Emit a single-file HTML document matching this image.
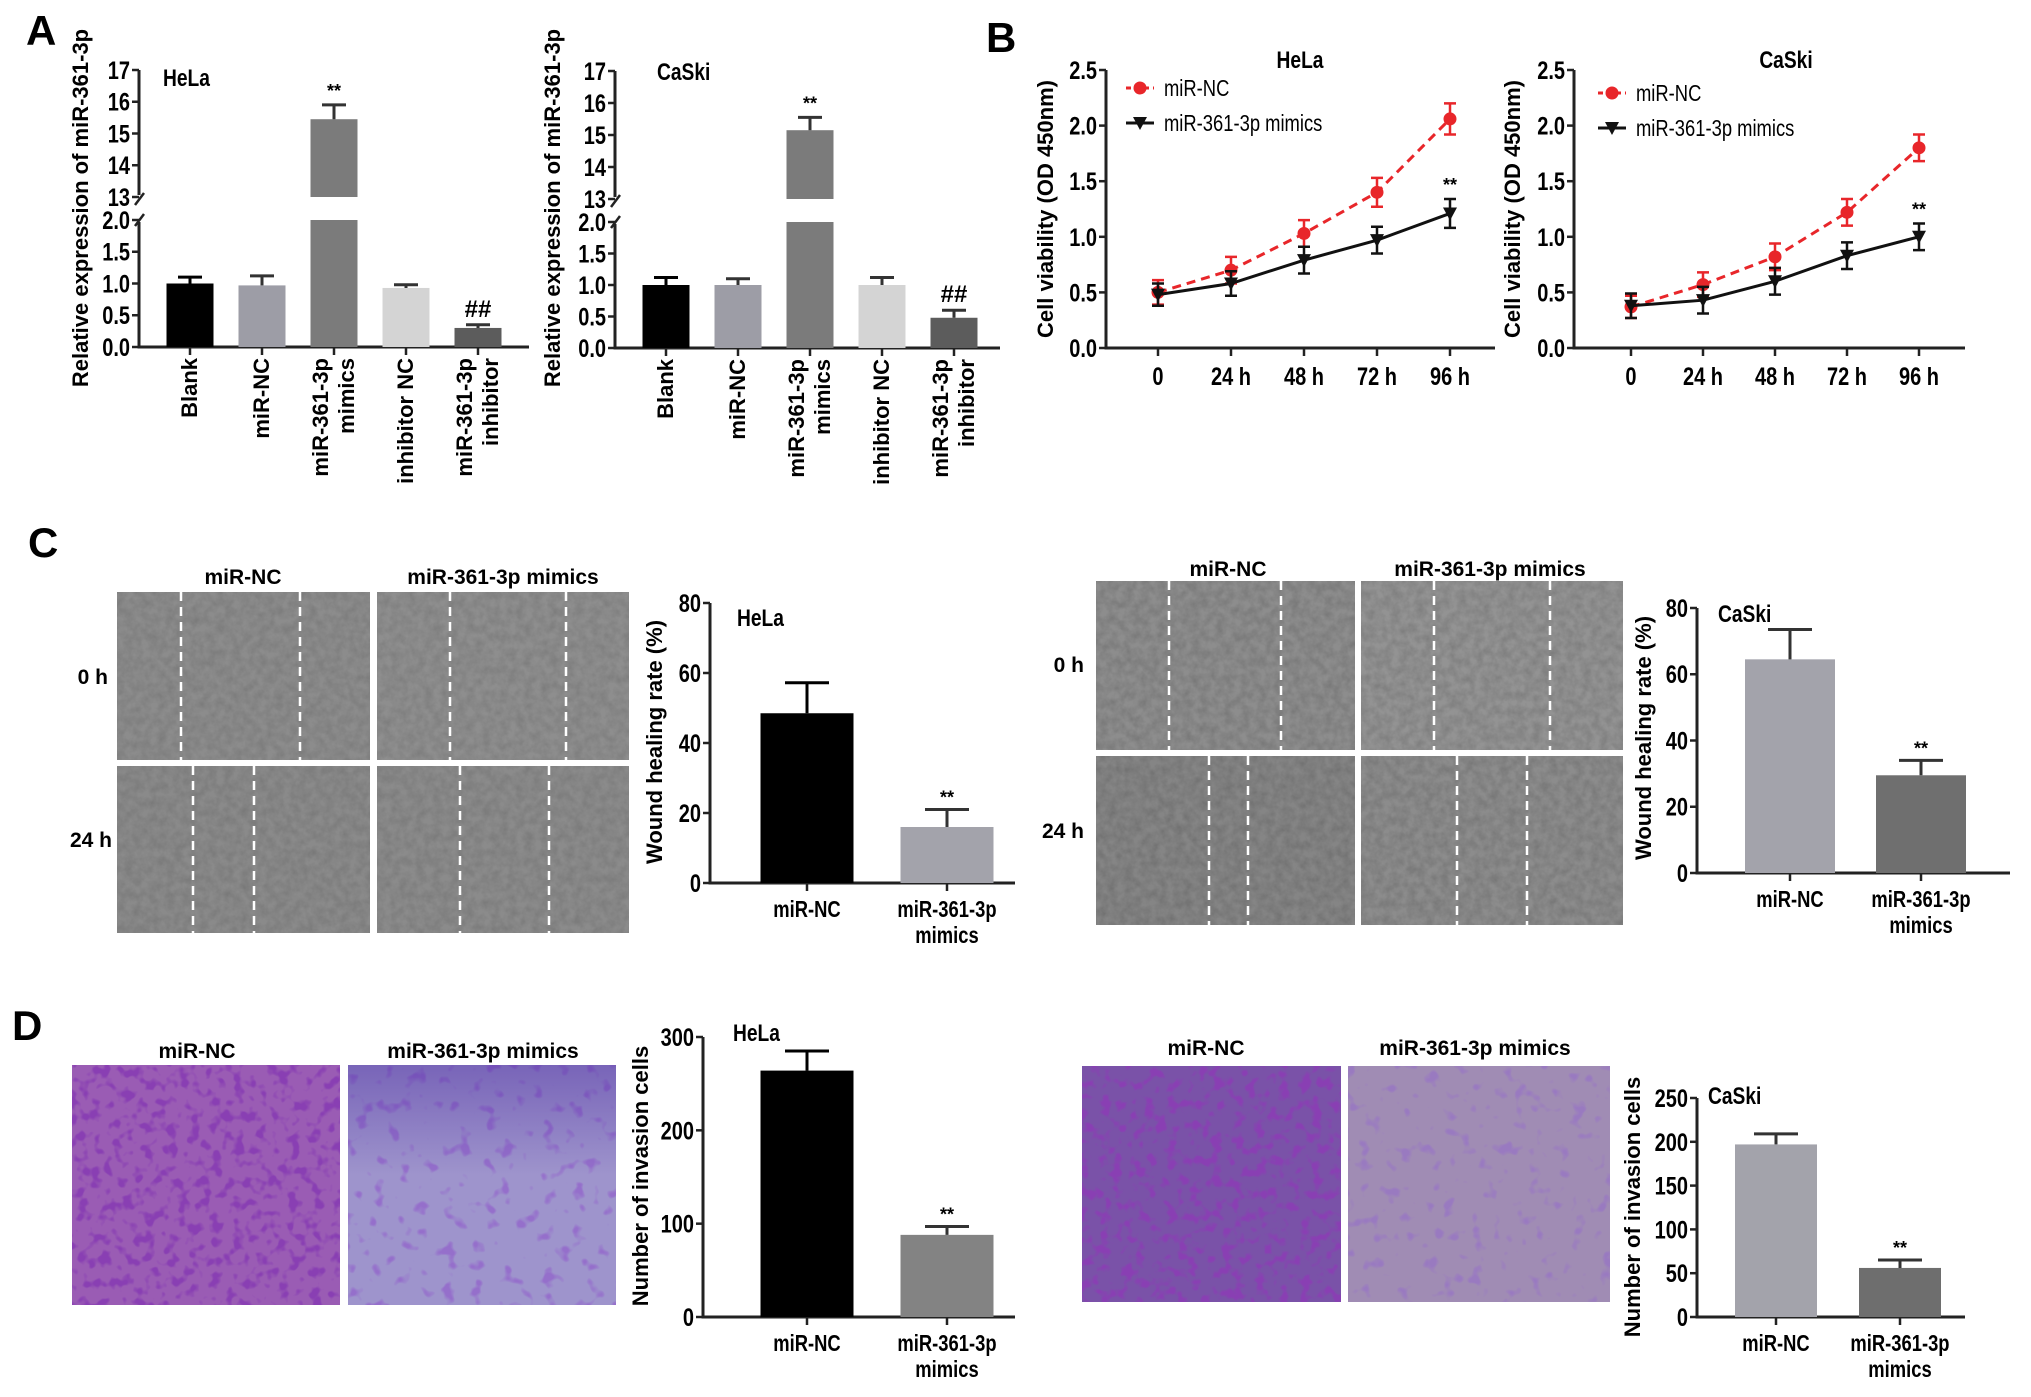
<!DOCTYPE html>
<html><head><meta charset="utf-8"><style>
html,body{margin:0;padding:0;background:#fff;}
svg{display:block;font-family:"Liberation Sans",Arial,sans-serif;font-weight:bold;}
</style></head><body>
<svg id="fig" width="2031" height="1397" viewBox="0 0 2031 1397" xmlns="http://www.w3.org/2000/svg">
<defs>
<filter id="noise" x="0" y="0" width="100%" height="100%"><feTurbulence type="fractalNoise" baseFrequency="0.12" numOctaves="3" seed="3"/><feColorMatrix type="matrix" values="0 0 0 0 0  0 0 0 0 0  0 0 0 0 0  0 0 0 0.9 -0.25"/></filter>
<filter id="cells" x="0" y="0" width="100%" height="100%"><feTurbulence type="fractalNoise" baseFrequency="0.09" numOctaves="2" seed="7"/><feColorMatrix type="matrix" values="0 0 0 0 0.25  0 0 0 0 0.05  0 0 0 0 0.45  0 0 0 6 -3.1"/></filter>
<filter id="cells2" x="0" y="0" width="100%" height="100%"><feTurbulence type="fractalNoise" baseFrequency="0.07" numOctaves="2" seed="11"/><feColorMatrix type="matrix" values="0 0 0 0 0.3  0 0 0 0 0.15  0 0 0 0 0.6  0 0 0 7 -4.2"/></filter>
<linearGradient id="topdense" x1="0" y1="0" x2="0" y2="1"><stop offset="0" stop-color="#4a2aa0" stop-opacity="0.45"/><stop offset="1" stop-color="#4a2aa0" stop-opacity="0"/></linearGradient>
</defs>
<rect width="2031" height="1397" fill="#fff"/>
<g font-size="42">
<text x="26" y="45">A</text>
<text x="986" y="52">B</text>
<text x="28" y="557">C</text>
<text x="12" y="1040">D</text>
</g>

<g>
<rect x="117" y="592" width="253" height="168" fill="#8c8c8c"/>
<rect x="377" y="592" width="252" height="168" fill="#8e8e8e"/>
<rect x="117" y="766" width="253" height="167" fill="#8a8a8a"/>
<rect x="377" y="766" width="252" height="167" fill="#8b8b8b"/>
<rect x="117" y="592" width="512" height="341" filter="url(#noise)" opacity="0.2"/>
<rect x="370" y="592" width="7" height="341" fill="#fff"/>
<rect x="117" y="760" width="512" height="6" fill="#fff"/>
<g stroke="#fff" stroke-width="2.5" stroke-dasharray="9,6">
<line x1="181" y1="592" x2="181" y2="760"/><line x1="300" y1="592" x2="300" y2="760"/>
<line x1="450" y1="592" x2="450" y2="760"/><line x1="566" y1="592" x2="566" y2="760"/>
<line x1="193" y1="766" x2="193" y2="933"/><line x1="254" y1="766" x2="254" y2="933"/>
<line x1="460" y1="766" x2="460" y2="933"/><line x1="549" y1="766" x2="549" y2="933"/>
</g>
<text x="243" y="584" font-size="21" text-anchor="middle">miR-NC</text>
<text x="503" y="584" font-size="21" text-anchor="middle">miR-361-3p mimics</text>
<text x="108" y="684" font-size="21" text-anchor="end">0 h</text>
<text x="112" y="847" font-size="21" text-anchor="end">24 h</text>
</g>
<g>
<rect x="1096" y="581" width="259" height="169" fill="#8d8d8d"/>
<rect x="1361" y="581" width="262" height="169" fill="#939393"/>
<rect x="1096" y="756" width="259" height="169" fill="#858585"/>
<rect x="1361" y="756" width="262" height="169" fill="#8c8c8c"/>
<rect x="1096" y="581" width="527" height="344" filter="url(#noise)" opacity="0.25"/>
<rect x="1355" y="581" width="6" height="344" fill="#fff"/>
<rect x="1096" y="750" width="527" height="6" fill="#fff"/>
<g stroke="#fff" stroke-width="2.5" stroke-dasharray="9,6">
<line x1="1169" y1="581" x2="1169" y2="750"/><line x1="1281" y1="581" x2="1281" y2="750"/>
<line x1="1434" y1="581" x2="1434" y2="750"/><line x1="1550" y1="581" x2="1550" y2="750"/>
<line x1="1209" y1="756" x2="1209" y2="925"/><line x1="1248" y1="756" x2="1248" y2="925"/>
<line x1="1457" y1="756" x2="1457" y2="925"/><line x1="1527" y1="756" x2="1527" y2="925"/>
</g>
<text x="1228" y="576" font-size="21" text-anchor="middle">miR-NC</text>
<text x="1490" y="576" font-size="21" text-anchor="middle">miR-361-3p mimics</text>
<text x="1084" y="672" font-size="21" text-anchor="end">0 h</text>
<text x="1084" y="838" font-size="21" text-anchor="end">24 h</text>
</g>

<g>
<rect x="72" y="1065" width="268" height="240" fill="#9a5cb4"/>
<rect x="72" y="1065" width="268" height="240" filter="url(#cells)"/>
<rect x="348" y="1065" width="268" height="240" fill="#9e94cc"/>
<rect x="348" y="1065" width="268" height="240" filter="url(#cells2)" opacity="0.9"/>
<rect x="348" y="1065" width="268" height="110" fill="url(#topdense)"/>
<text x="197" y="1058" font-size="21" text-anchor="middle">miR-NC</text>
<text x="483" y="1058" font-size="21" text-anchor="middle">miR-361-3p mimics</text>
</g>
<g>
<rect x="1082" y="1066" width="259" height="236" fill="#7a52a8"/>
<rect x="1082" y="1066" width="259" height="236" filter="url(#cells)"/>
<rect x="1348" y="1066" width="262" height="236" fill="#a08cb4"/>
<rect x="1348" y="1066" width="262" height="236" filter="url(#cells2)" opacity="0.55"/>
<text x="1206" y="1055" font-size="21" text-anchor="middle">miR-NC</text>
<text x="1475" y="1055" font-size="21" text-anchor="middle">miR-361-3p mimics</text>
</g>
<g id="charts"></g>
</svg>
<script>
// ---- Panel A data ----
const aCategories = ['Blank','miR-NC','miR-361-3p|mimics','inhibitor NC','miR-361-3p|inhibitor'];
const aHelaValues = [1.0, 0.97, 15.45, 0.93, 0.30];
const aHelaErrors = [0.10, 0.15, 0.45, 0.05, 0.05];
const aCaskiValues = [1.0, 1.0, 15.15, 1.0, 0.48];
const aCaskiErrors = [0.12, 0.10, 0.40, 0.12, 0.12];
const aLowerTicks = ['0.0','0.5','1.0','1.5','2.0'];
const aUpperTicks = ['13','14','15','16','17'];
const aHelaMarks = ['', '', '**', '', '##'];
const aCaskiMarks = ['', '', '**', '', '##'];
// ---- Panel B data ----
const bTimes = ['0','24 h','48 h','72 h','96 h'];
const bYTicks = ['0.0','0.5','1.0','1.5','2.0','2.5'];
const bHelaNC = [0.50, 0.70, 1.03, 1.40, 2.06];
const bHelaNCErr = [0.11, 0.12, 0.12, 0.13, 0.14];
const bHelaMimics = [0.48, 0.58, 0.79, 0.97, 1.21];
const bHelaMimicsErr = [0.10, 0.11, 0.12, 0.12, 0.13];
const bCaskiNC = [0.37, 0.57, 0.82, 1.22, 1.80];
const bCaskiNCErr = [0.10, 0.11, 0.12, 0.12, 0.12];
const bCaskiMimics = [0.38, 0.43, 0.60, 0.83, 1.00];
const bCaskiMimicsErr = [0.11, 0.12, 0.12, 0.12, 0.12];
// ---- Panel C data ----
const cCategories = ['miR-NC','miR-361-3p|mimics'];
const cYTicks = ['0','20','40','60','80'];
const cHelaValues = [48.5, 16.0];
const cHelaErrors = [8.7, 5.0];
const cCaskiValues = [64.5, 29.5];
const cCaskiErrors = [9.0, 4.5];
// ---- Panel D data ----
const dCategories = ['miR-NC','miR-361-3p|mimics'];
const dHelaTicks = ['0','100','200','300'];
const dHelaValues = [264, 88];
const dHelaErrors = [21, 9];
const dCaskiTicks = ['0','50','100','150','200','250'];
const dCaskiValues = [197, 56];
const dCaskiErrors = [12, 9];

const TICK_FS = 25;
const NS = 'http://www.w3.org/2000/svg';
const root = document.getElementById('charts');
function mk(tag, attrs, parent){
  const e = document.createElementNS(NS, tag);
  for (const k in attrs) e.setAttribute(k, attrs[k]);
  (parent || root).appendChild(e);
  return e;
}
function txt(parent, x, y, s, size, anchor, extra){
  const t = mk('text', Object.assign({x:x, y:y, 'font-size':size, 'text-anchor':anchor||'middle'}, extra||{}), parent);
  t.textContent = s;
  return t;
}
function sq(x){ return `translate(${x},0) scale(0.8,1) translate(${-x},0)`; }

function brokenBar(p){
  const g = mk('g', {});
  
  
  const lowScale = (p.y0 - p.y2) / 2;
  const upScale = (p.y13 - p.y17) / 4;
  const yv = v => v <= 2 ? p.y0 - v * lowScale : p.y13 - (v - 13) * upScale;
  const ax = mk('path', {d:`M${p.ax},${p.y17} V${p.y13-2} M${p.ax},${p.y2+2} V${p.y0} H${p.axEnd}`, stroke:'#222', 'stroke-width':3, fill:'none'}, g);
  
  
  const brk = mk('path', {d:`M${p.ax-4},${p.y13+8} L${p.ax+5},${p.y13-4} M${p.ax-4},${p.y2+6} L${p.ax+5},${p.y2-6}`, stroke:'#222', 'stroke-width':2.5, fill:'none'}, g);
  
  
  aLowerTicks.concat(aUpperTicks).forEach(s=>{
    const y = yv(parseFloat(s));
    const tk = mk('line', {x1:p.ax-7, x2:p.ax, y1:y, y2:y, stroke:'#222', 'stroke-width':2.5}, g);
    
    
    const tl = txt(g, p.ax-9, y+9, s, TICK_FS, 'end', {transform:sq(p.ax-9)});
    
    
  });
  aCategories.forEach((c,i)=>{
    const cx = p.x0 + i * p.step, v = p.values[i], e = p.errors[i];
    if (v > 13) {
      const r1 = mk('rect', {x:cx-p.w/2, y:yv(2), width:p.w, height:p.y0-yv(2), fill:p.colors[i]}, g);
      
      
      const r2 = mk('rect', {x:cx-p.w/2, y:yv(v), width:p.w, height:yv(13)-yv(v), fill:p.colors[i]}, g);
      
      
    } else {
      const r = mk('rect', {x:cx-p.w/2, y:yv(v), width:p.w, height:p.y0-yv(v), fill:p.colors[i]}, g);
      
      
    }
    const ey = yv(v + e);
    const eb = mk('path', {d:`M${cx},${yv(v)} V${ey} M${cx-12},${ey} H${cx+12}`, stroke:p.colors[i]==='#000'?'#000':'#333', 'stroke-width':3, fill:'none'}, g);
    
    
    const tk = mk('line', {x1:cx, x2:cx, y1:p.y0, y2:p.y0+8, stroke:'#222', 'stroke-width':2.5}, g);
    
    
    if (p.marks[i]) {
      const m = txt(g, cx, ey-8, p.marks[i], p.marks[i]==='**'?18:24, 'middle');
      
      
    }
    const lines = c.split('|');
    lines.forEach((ln,j)=>{
      const lx = cx + 7 + (j - (lines.length-1)/2) * 26;
      const t = txt(g, 0, 0, ln, 22, 'end', {transform:`translate(${lx},${p.y0+11}) rotate(-90)`});
      
      
    });
  });
  const yl = txt(g, 0, 0, 'Relative expression of miR-361-3p', 22, 'middle', {transform:`translate(${p.ylx},${p.yly}) rotate(-90)`});
  
  
  const ti = txt(g, p.tx, p.ty, p.title, 24, 'start', {transform:sq(p.tx)});
  
  
}
brokenBar({name:'chart-a-hela', ax:139, axEnd:529, y0:347, y2:220, y13:197, y17:70, x0:190, step:72, w:47,
  values:aHelaValues, errors:aHelaErrors, marks:aHelaMarks, colors:['#000','#9d9da6','#7b7b7b','#d4d4d4','#5c5c5c'],
  ylx:88, yly:208, title:'HeLa', tx:163, ty:86});
brokenBar({name:'chart-a-caski', ax:615, axEnd:1000, y0:348, y2:222, y13:199, y17:71, x0:666, step:72, w:47,
  values:aCaskiValues, errors:aCaskiErrors, marks:aCaskiMarks, colors:['#000','#9d9da6','#7b7b7b','#d4d4d4','#5c5c5c'],
  ylx:560, yly:208, title:'CaSki', tx:657, ty:80});

function lineChart(p){
  const g = mk('g', {});
  
  
  const yv = v => p.y0 - v * (p.y0 - p.yTop) / 2.5;
  const xv = i => p.x0 + i * p.step;
  const ax = mk('path', {d:`M${p.ax},${p.yTop} V${p.y0} H${p.axEnd}`, stroke:'#222', 'stroke-width':3, fill:'none'}, g);
  
  
  bYTicks.forEach(s=>{
    const y = yv(parseFloat(s));
    const tk = mk('line', {x1:p.ax-7, x2:p.ax, y1:y, y2:y, stroke:'#222', 'stroke-width':2.5}, g);
    
    
    const tl = txt(g, p.ax-9, y+9, s, TICK_FS, 'end', {transform:sq(p.ax-9)});
    
    
  });
  bTimes.forEach((s,i)=>{
    const tk = mk('line', {x1:xv(i), x2:xv(i), y1:p.y0, y2:p.y0+8, stroke:'#222', 'stroke-width':2.5}, g);
    
    
    const tl = txt(g, xv(i), p.y0+37, s, TICK_FS, 'middle', {transform:sq(xv(i))});
    
    
  });
  function series(vals, errs, color, dash, marker, nm){
    const sg = mk('g', {}, g);
    
    
    const pts = vals.map((v,i)=>`${xv(i)},${yv(v)}`).join(' ');
    const pl = mk('polyline', {points:pts, fill:'none', stroke:color, 'stroke-width':3, 'stroke-dasharray':dash}, sg);
    
    
    vals.forEach((v,i)=>{
      const x = xv(i), y1 = yv(v+errs[i]), y2 = yv(v-errs[i]);
      const eb = mk('path', {d:`M${x},${y1} V${y2} M${x-6},${y1} H${x+6} M${x-6},${y2} H${x+6}`, stroke:color, 'stroke-width':2.5, fill:'none'}, sg);
      
      
      let m;
      if (marker === 'circle') m = mk('circle', {cx:x, cy:yv(v), r:6.5, fill:color}, sg);
      else m = mk('path', {d:`M${x-7},${yv(v)-6} L${x+7},${yv(v)-6} L${x},${yv(v)+7} Z`, fill:color}, sg);
      
      
    });
  }
  series(p.nc, p.ncErr, '#e8262a', '9,6', 'circle', 'series-mir-nc');
  series(p.mim, p.mimErr, '#111', '', 'tri', 'series-mimics');
  const last = bTimes.length-1;
  const st = txt(g, xv(last), yv(p.mim[last]+p.mimErr[last])-8, '**', 18, 'middle');
  
  
  const lg = mk('g', {}, g);
  
  
  const l1 = mk('line', {x1:p.lx-14, x2:p.lx+14, y1:p.ly, y2:p.ly, stroke:'#e8262a', 'stroke-width':3, 'stroke-dasharray':'5,4'}, lg);
  
  
  const c1 = mk('circle', {cx:p.lx, cy:p.ly, r:6.5, fill:'#e8262a'}, lg);
  
  
  const t1 = txt(lg, p.lx+24, p.ly+8, 'miR-NC', 23, 'start', {'font-weight':'normal', transform:sq(p.lx+24)});
  
  
  const y2 = p.ly + 35;
  const l2 = mk('line', {x1:p.lx-14, x2:p.lx+14, y1:y2, y2:y2, stroke:'#111', 'stroke-width':3}, lg);
  
  
  const m2 = mk('path', {d:`M${p.lx-7},${y2-6} L${p.lx+7},${y2-6} L${p.lx},${y2+7} Z`, fill:'#111'}, lg);
  
  
  const t2 = txt(lg, p.lx+24, y2+8, 'miR-361-3p mimics', 23, 'start', {'font-weight':'normal', transform:sq(p.lx+24)});
  
  
  const yl = txt(g, 0, 0, 'Cell viability (OD 450nm)', 22, 'middle', {transform:`translate(${p.ylx},${(p.y0+p.yTop)/2}) rotate(-90)`});
  
  
  const ti = txt(g, p.tx, 68, p.title, 24, 'middle', {transform:sq(p.tx)});
  
  
}
lineChart({name:'chart-b-hela', ax:1106, axEnd:1495, y0:348, yTop:70, x0:1158, step:73,
  nc:bHelaNC, ncErr:bHelaNCErr, mim:bHelaMimics, mimErr:bHelaMimicsErr, lx:1140, ly:88, ylx:1053, title:'HeLa', tx:1300});
lineChart({name:'chart-b-caski', ax:1574, axEnd:1965, y0:348, yTop:70, x0:1631, step:72,
  nc:bCaskiNC, ncErr:bCaskiNCErr, mim:bCaskiMimics, mimErr:bCaskiMimicsErr, lx:1612, ly:93, ylx:1520, title:'CaSki', tx:1786});

function barChart(p){
  const g = mk('g', {});
  
  
  const max = parseFloat(p.ticks[p.ticks.length-1]);
  const yv = v => p.y0 - v * (p.y0 - p.yTop) / max;
  const ax = mk('path', {d:`M${p.ax},${p.yTop} V${p.y0} H${p.axEnd}`, stroke:'#222', 'stroke-width':3, fill:'none'}, g);
  
  
  p.ticks.forEach(s=>{
    const y = yv(parseFloat(s));
    const tk = mk('line', {x1:p.ax-7, x2:p.ax, y1:y, y2:y, stroke:'#222', 'stroke-width':2.5}, g);
    
    
    const tl = txt(g, p.ax-9, y+9, s, TICK_FS, 'end', {transform:sq(p.ax-9)});
    
    
  });
  p.cats.forEach((c,i)=>{
    const cx = p.xs[i], v = p.values[i], e = p.errors[i];
    const r = mk('rect', {x:cx-p.w/2, y:yv(v), width:p.w, height:p.y0-yv(v), fill:p.colors[i]}, g);
    
    
    const ey = yv(v+e);
    const eb = mk('path', {d:`M${cx},${yv(v)} V${ey} M${cx-22},${ey} H${cx+22}`, stroke:i===0&&p.colors[0]==='#000'?'#000':'#333', 'stroke-width':3, fill:'none'}, g);
    
    
    const tk = mk('line', {x1:cx, x2:cx, y1:p.y0, y2:p.y0+8, stroke:'#222', 'stroke-width':2.5}, g);
    
    
    if (i === 1) {
      const m = txt(g, cx, ey-6, '**', 18, 'middle');
      
      
    }
    c.split('|').forEach((ln,j)=>{
      const t = txt(g, cx, p.y0+34+j*26, ln, 23, 'middle', {transform:sq(cx)});
      
      
    });
  });
  const yl = txt(g, 0, 0, p.ylabel, 22, 'middle', {transform:`translate(${p.ylx},${p.yly}) rotate(-90)`});
  
  
  const ti = txt(g, p.tx, p.ty, p.title, 24, 'start', {transform:sq(p.tx)});
  
  
}
barChart({name:'chart-c-hela', ax:710, axEnd:1015, y0:883, yTop:603, ticks:cYTicks, cats:cCategories, xs:[807,947], w:93,
  values:cHelaValues, errors:cHelaErrors, colors:['#000','#a3a3ab'], ylabel:'Wound healing rate (%)', ylx:662, yly:742, title:'HeLa', tx:737, ty:626});
barChart({name:'chart-c-caski', ax:1697, axEnd:2010, y0:873, yTop:608, ticks:cYTicks, cats:cCategories, xs:[1790,1921], w:90,
  values:cCaskiValues, errors:cCaskiErrors, colors:['#a3a3ab','#6f6f6f'], ylabel:'Wound healing rate (%)', ylx:1651, yly:738, title:'CaSki', tx:1718, ty:622});
barChart({name:'chart-d-hela', ax:703, axEnd:1015, y0:1317, yTop:1037, ticks:dHelaTicks, cats:dCategories, xs:[807,947], w:93,
  values:dHelaValues, errors:dHelaErrors, colors:['#000','#838383'], ylabel:'Number of invasion cells', ylx:648, yly:1176, title:'HeLa', tx:733, ty:1041});
barChart({name:'chart-d-caski', ax:1697, axEnd:1965, y0:1317, yTop:1098, ticks:dCaskiTicks, cats:dCategories, xs:[1776,1900], w:82,
  values:dCaskiValues, errors:dCaskiErrors, colors:['#a3a3ab','#6e6e6e'], ylabel:'Number of invasion cells', ylx:1640, yly:1207, title:'CaSki', tx:1708, ty:1104});
</script>
</body></html>
